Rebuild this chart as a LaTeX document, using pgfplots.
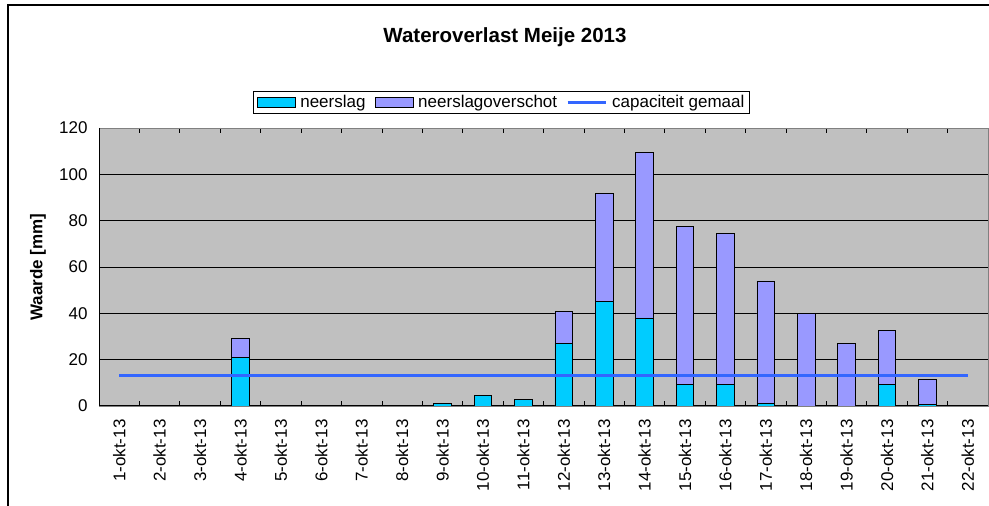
\documentclass[border=0pt]{standalone}
\usepackage{fontspec}
\setmainfont{Liberation Sans}
\usepackage{pgfplots}
\pgfplotsset{compat=1.18}

\definecolor{neerslag}{HTML}{00CCFF}
\definecolor{overschot}{HTML}{9999FF}
\definecolor{gemaal}{HTML}{3366FF}
\definecolor{plotbg}{HTML}{C0C0C0}
\newcommand\lbl{\fontsize{17}{20}\selectfont}

\pgfplotsset{chartbase/.style={
    at={(99pt,100pt)}, anchor=south west,
    scale only axis, width=889pt, height=278pt,
    xmin=0.5, xmax=22.5, ymin=0, ymax=120,
}}

\begin{document}
\begin{tikzpicture}[x=1pt,y=1pt]
\useasboundingbox (0,0) rectangle (989,506);
\draw[line width=1.5pt] (8,0) -- (8,501) -- (989,501);

\node[font=\fontsize{20.5}{24}\selectfont\bfseries] at (505,469) {Wateroverlast Meije 2013};
\node[rotate=90, font=\lbl\bfseries] at (38,239) {Waarde [mm]};

\begin{axis}[chartbase,
    ybar stacked, bar width=17.6pt,
    axis background/.style={fill=plotbg},
    axis line style={draw=gray, line width=0.8pt},
    ymajorgrids, major grid style={black, line width=0.7pt},
    ytick={0,20,...,120},
    xtick={1,...,22},
    xticklabels={1-okt-13,2-okt-13,3-okt-13,4-okt-13,5-okt-13,6-okt-13,7-okt-13,8-okt-13,9-okt-13,10-okt-13,11-okt-13,12-okt-13,13-okt-13,14-okt-13,15-okt-13,16-okt-13,17-okt-13,18-okt-13,19-okt-13,20-okt-13,21-okt-13,22-okt-13},
    minor xtick={1.5,2.5,...,21.5},
    tick align=inside, major tick length=0pt, minor tick length=5pt,
    minor tick style={black, line width=0.7pt},
    tick label style={font=\lbl},
    /pgf/number format/assume math mode=true,
    y tick label style={xshift=-8pt},
    x tick label style={yshift=-10pt, rotate=90, anchor=east},
    legend columns=-1,
    legend style={at={(0.4528,1.0917)}, anchor=center, draw=black, fill=white,
        font=\lbl, line width=0.7pt, inner xsep=3pt, inner ysep=2pt,
        /tikz/every odd column/.append style={column sep=3pt},
        /tikz/every even column/.append style={column sep=7pt}},
]
\addplot[fill=neerslag, draw=black, line width=0.7pt,
    legend image code/.code={\draw[fill=neerslag, draw=black, line width=0.7pt] (0pt,-5pt) rectangle (38pt,5pt);}]
coordinates {
    (1,0) (2,0) (3,0) (4,21) (5,0) (6,0) (7,0) (8,0) (9,1.2) (10,4.7) (11,3)
    (12,27) (13,45.2) (14,38) (15,9.2) (16,9.2) (17,1) (18,0) (19,0) (20,9.2) (21,0.5) (22,0)
};
\addlegendentry{neerslag}
\addplot[fill=overschot, draw=black, line width=0.7pt,
    legend image code/.code={\draw[fill=overschot, draw=black, line width=0.7pt] (0pt,-5pt) rectangle (38pt,5pt);}]
coordinates {
    (1,0) (2,0) (3,0) (4,8.3) (5,0) (6,0) (7,0) (8,0) (9,0) (10,0) (11,0)
    (12,14) (13,46.4) (14,71.3) (15,68.4) (16,65.3) (17,53) (18,39.9) (19,26.9) (20,23.6) (21,11.2) (22,0)
};
\addlegendentry{neerslagoverschot}
\addlegendimage{legend image code/.code={\draw[gemaal, line width=3pt] (0pt,0pt) -- (38pt,0pt);}}
\addlegendentry{capaciteit gemaal}
\draw[black, line width=1pt] (rel axis cs:0,1) -- (rel axis cs:0,0) -- (rel axis cs:1,0);
\end{axis}

\begin{axis}[chartbase, hide axis]
\addplot[gemaal, line width=3pt] coordinates {(1,13) (22,13)};
\end{axis}
\end{tikzpicture}
\end{document}
